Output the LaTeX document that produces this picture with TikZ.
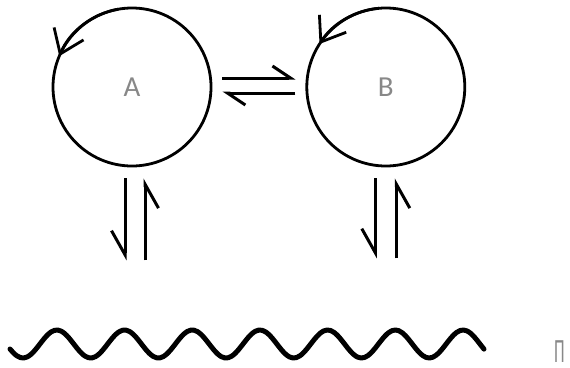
\documentclass[tikz,border=0pt]{standalone}
\usepackage{fontspec}
\setmainfont{Carlito}
\usetikzlibrary{arrows.meta,positioning}
\definecolor{LabelGray}{HTML}{888888}

\begin{document}
\begin{tikzpicture}[
    x=1pt,y=-1pt,
    node distance=93pt,
    cell/.style={draw,circle,line width=2.8pt,minimum size=158pt,inner sep=0pt,
      text=LabelGray,font=\fontsize{29}{32}\selectfont},
    harp/.style={line width=3pt,-{Straight Barb[left,length=18pt,width=24pt]}},
    vharp/.style={line width=3pt,-{Straight Barb[right,length=24pt,width=27pt]}},
    spin/.style={line width=2.8pt,-{Straight Barb[length=22pt,width=32pt]}},
    wave/.style={line width=5pt,line cap=round,line join=round}
  ]
  \useasboundingbox (0,0) rectangle (570,367);
  \node[cell] (A) at (132,87) {A};
  \node[cell,right=of A] (B) {B};
  % turning arrows on the circles
  \draw[spin] ([shift={(100:79pt)}]A.center) arc[start angle=100,end angle=157,radius=79pt];
  \draw[spin] ([shift={(95:79pt)}]B.center) arc[start angle=95,end angle=147,radius=79pt];
  % exchange between A and B
  \draw[harp] ([xshift=10pt,yshift=9pt]A.east) -- ([xshift=-10pt,yshift=9pt]B.west);
  \draw[harp] ([xshift=-10pt,yshift=-6pt]B.west) -- ([xshift=10pt,yshift=-6pt]A.east);
  % exchange with the bottom
  \coordinate (A-foot) at ([yshift=-93pt]A.south);
  \coordinate (B-foot) at ([yshift=-91pt]B.south);
  \draw[vharp] ([xshift=-7pt,yshift=-11pt]A.south) -- ([xshift=-7pt]A-foot);
  \draw[vharp] ([xshift=13pt]A-foot) -- ([xshift=13pt,yshift=-11pt]A.south);
  \draw[vharp] ([xshift=-10.5pt,yshift=-11pt]B.south) -- ([xshift=-10.5pt]B-foot);
  \draw[vharp] ([xshift=10.5pt]B-foot) -- ([xshift=10.5pt,yshift=-11pt]B.south);
  \draw[wave] plot[domain=10:484,samples=140,smooth] (\x,{344+14*cos(5.3176*(\x-23))});
  \node[anchor=base west,inner sep=0pt,text=LabelGray,
    font=\fontsize{17}{20}\selectfont] (tail) at (554,362) {\scalebox{1}[2]{П}};
\end{tikzpicture}
\end{document}
